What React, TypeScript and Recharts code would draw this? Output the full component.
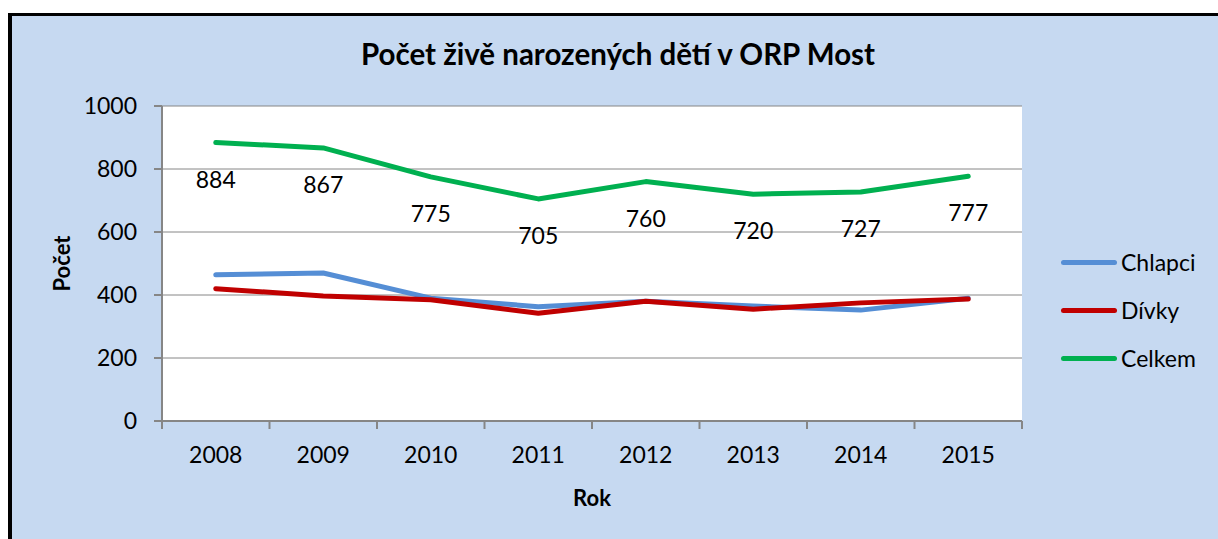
import React from "react";
import { CartesianGrid, Label, LabelList, Line, LineChart, XAxis, YAxis } from "recharts";

const years = ["2008", "2009", "2010", "2011", "2012", "2013", "2014", "2015"];
const chlapci = [464, 470, 390, 363, 380, 365, 352, 390];
const divky = [420, 397, 385, 342, 380, 355, 375, 387];
const celkem = [884, 867, 775, 705, 760, 720, 727, 777];
const yTicks = [0, 200, 400, 600, 800, 1000];

const series = [
  { key: "chlapci", name: "Chlapci", color: "#558ED5" },
  { key: "divky", name: "Dívky", color: "#C00000" },
  { key: "celkem", name: "Celkem", color: "#00B050" },
];

const data = years.map((year, i) => ({
  year,
  chlapci: chlapci[i],
  divky: divky[i],
  celkem: celkem[i],
}));

const FONT = "Lato, 'Open Sans', sans-serif";
const W = 1206;
const H = 523;
const margin = { top: 90, right: 196, left: 0, bottom: 28 };
const Y_W = 150;
const PLOT_W = W - Y_W - margin.right;
const HALF = PLOT_W / years.length / 2;
const GRAY = "#868686";

function YearTick(props: any) {
  const { x, y, payload, index } = props;
  return (
    <g>
      <line x1={x - HALF} x2={x - HALF} y1={y} y2={y + 8} stroke={GRAY} strokeWidth={2} />
      {index === years.length - 1 && (
        <line x1={x + HALF} x2={x + HALF} y1={y} y2={y + 8} stroke={GRAY} strokeWidth={2} />
      )}
      <text x={x} y={y + 42} textAnchor="middle" fontSize={23} fill="#000" fontFamily={FONT}>
        {payload.value}
      </text>
    </g>
  );
}

function TotalLabel(props: any) {
  const { x, y, value } = props;
  return (
    <text x={x} y={y + 45} textAnchor="middle" fontSize={23} fill="#000" fontFamily={FONT}>
      {value}
    </text>
  );
}

export default function App() {
  return (
    <div
      style={{
        position: "fixed",
        left: 8,
        top: 13,
        width: 1210,
        height: 526,
        boxSizing: "border-box",
        borderTop: "3px solid #000",
        borderLeft: "4px solid #000",
        background: "#C6D9F1",
        fontFamily: FONT,
      }}
    >
      <div
        style={{
          position: "absolute",
          left: 0,
          top: 20,
          width: 1212,
          textAlign: "center",
          fontSize: 29.5,
          fontWeight: 700,
          lineHeight: "36px",
          color: "#000",
        }}
      >
        Počet živě narozených dětí v ORP Most
      </div>
      <LineChart width={W} height={H} data={data} margin={margin}>
        <CartesianGrid vertical={false} stroke={GRAY} fill="#FFFFFF" />
        <XAxis
          dataKey="year"
          scale="band"
          height={90}
          tickLine={false}
          tickSize={0}
          tickMargin={0}
          axisLine={{ stroke: GRAY, strokeWidth: 2 }}
          tick={<YearTick />}
          interval={0}
        >
          <Label
            value="Rok"
            position="insideBottom"
            offset={5}
            style={{ fontSize: 22, fontWeight: 700, fill: "#000", fontFamily: FONT }}
          />
        </XAxis>
        <YAxis
          width={Y_W}
          domain={[0, 1000]}
          ticks={yTicks}
          interval={0}
          tickSize={8}
          tickMargin={17}
          tickLine={{ stroke: GRAY, strokeWidth: 2 }}
          axisLine={{ stroke: GRAY, strokeWidth: 2 }}
          tick={{ fontSize: 23, fill: "#000", fontFamily: FONT }}
        >
          <Label
            value="Počet"
            angle={-90}
            position="insideLeft"
            offset={50}
            style={{ fontSize: 22, fontWeight: 700, fill: "#000", fontFamily: FONT, textAnchor: "middle" }}
          />
        </YAxis>
        {series.map((s) => (
          <Line
            key={s.key}
            dataKey={s.key}
            name={s.name}
            stroke={s.color}
            strokeWidth={5}
            strokeLinecap="round"
            strokeLinejoin="round"
            dot={false}
            activeDot={false}
            isAnimationActive={false}
          >
            {s.key === "celkem" && <LabelList dataKey="celkem" content={<TotalLabel />} />}
          </Line>
        ))}
      </LineChart>
      <div style={{ position: "absolute", left: 1049, top: 222 }}>
        {series.map((s) => (
          <div key={s.key} style={{ display: "flex", alignItems: "center", height: 48 }}>
            <div style={{ width: 56, height: 5, borderRadius: 3, background: s.color }} />
            <span style={{ marginLeft: 4, fontSize: 23, color: "#000", lineHeight: "28px" }}>{s.name}</span>
          </div>
        ))}
      </div>
    </div>
  );
}
